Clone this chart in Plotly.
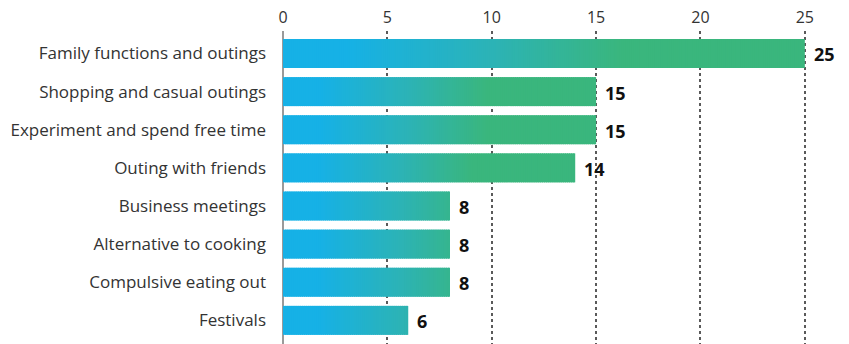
import plotly.graph_objects as go

# Reasons for eating out (number of responses)
categories = [
    "Family functions and outings",
    "Shopping and casual outings",
    "Experiment and spend free time",
    "Outing with friends",
    "Business meetings",
    "Alternative to cooking",
    "Compulsive eating out",
    "Festivals",
]
values = [25, 15, 15, 14, 8, 8, 8, 6]
x_ticks = [0, 5, 10, 15, 20, 25]

BLUE = "#16b1e6"
TEAL = "#2cb3b6"
GREEN = "#3ab67d"
BAR_WIDTH = 0.76

# Horizontal gradient for every bar: the bar is painted as thin slices whose
# colour follows the slice's relative position along the bar.
step = 0.1
seg_y, seg_base, seg_len, seg_pos = [], [], [], []
for cat, val in zip(categories, values):
    span = max(val, 14)
    n = int(round(val / step))
    for i in range(n):
        start = i * step
        seg_y.append(cat)
        seg_base.append(start)
        seg_len.append(min(step * 1.6, val - start))
        seg_pos.append((start + step / 2) / span)

fig = go.Figure()

# Data bars (values), kept for hover and extent
fig.add_trace(go.Bar(
    x=values, y=categories, orientation="h", width=BAR_WIDTH,
    marker=dict(color="rgba(0,0,0,0)", line=dict(width=0)),
    hoverinfo="x+y", showlegend=False,
))

fig.add_trace(go.Bar(
    x=seg_len, y=seg_y, base=seg_base, orientation="h", width=BAR_WIDTH,
    marker=dict(
        color=seg_pos, cmin=0, cmax=1,
        colorscale=[[0, BLUE], [0.12, BLUE], [0.4, TEAL], [0.65, GREEN], [1, GREEN]],
        line=dict(width=0),
    ),
    hoverinfo="skip", showlegend=False,
))

# Value labels at the end of each bar
for cat, val in zip(categories, values):
    fig.add_annotation(
        x=val, y=cat, text=f"<b>{val}</b>", showarrow=False,
        xanchor="left", yanchor="middle", xshift=7, yshift=-1,
        font=dict(family="Open Sans", size=18, color="#111111"),
    )

fig.update_layout(
    width=849, height=344,
    margin=dict(l=283, r=40, t=31, b=0),
    paper_bgcolor="white", plot_bgcolor="white",
    barmode="overlay",
    xaxis=dict(
        side="top", range=[0, 25.2],
        tickmode="array", tickvals=x_ticks, ticktext=[str(t) for t in x_ticks],
        tickfont=dict(family="Open Sans", size=16, color="#333333"),
        showgrid=True, gridcolor="#5a5a5a", gridwidth=2, griddash="dot",
        zeroline=True, zerolinecolor="#9a9a9a", zerolinewidth=2,
        showline=False, ticks="", ticklabelstandoff=4,
        fixedrange=True,
    ),
    yaxis=dict(
        type="category", categoryorder="array", categoryarray=categories,
        range=[7.62, -0.59],
        tickfont=dict(family="Open Sans", size=17, color="#333333"),
        showgrid=False, zeroline=False, showline=False, ticks="",
        ticklabelstandoff=16, fixedrange=True,
    ),
)

fig.write_html("out.html")
